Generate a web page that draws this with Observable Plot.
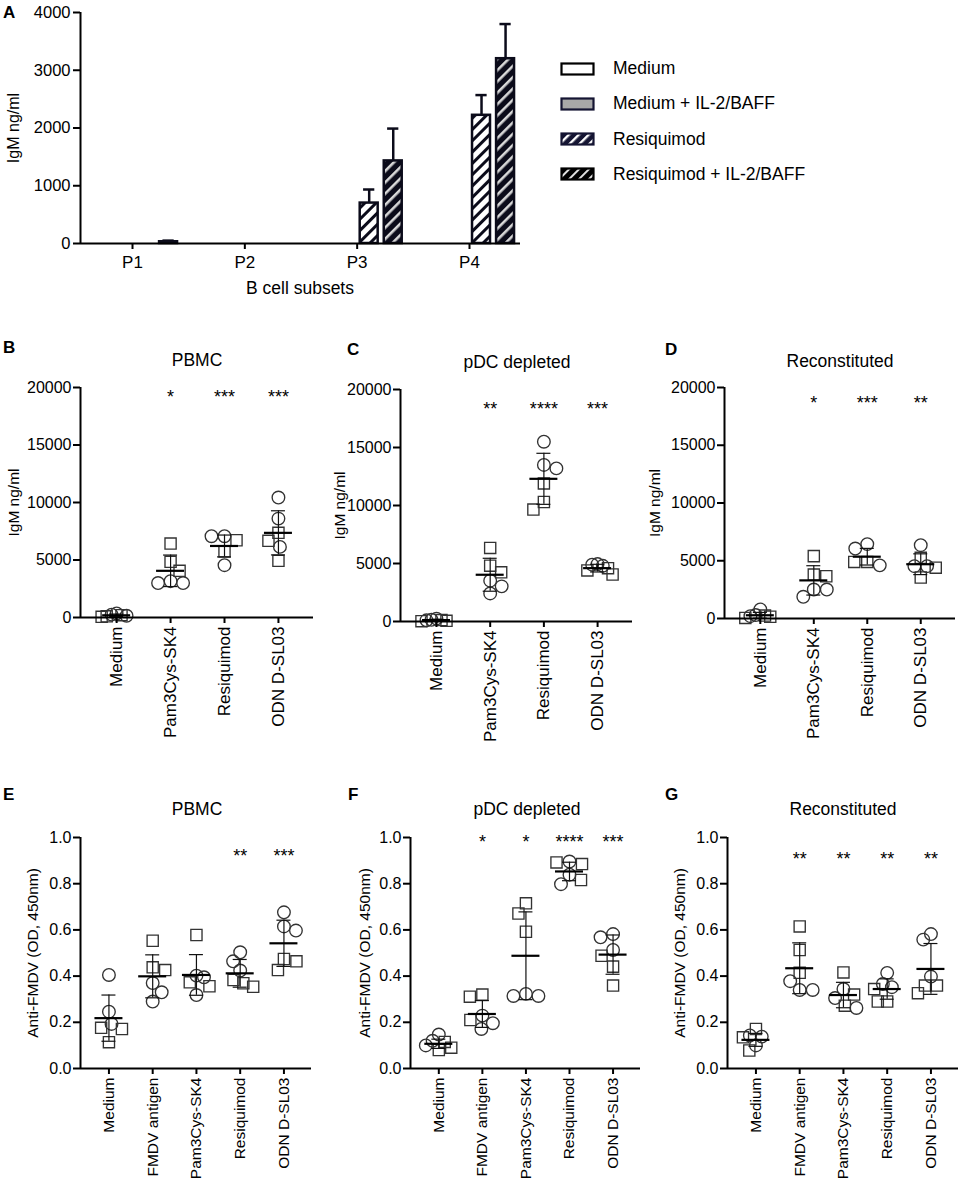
<!DOCTYPE html>
<html>
<head>
<meta charset="utf-8">
<script src="https://cdn.jsdelivr.net/npm/d3@7"></script>
<script src="https://cdn.jsdelivr.net/npm/@observablehq/plot@0.6"></script>
<style>
  body { margin: 0; background: #fff; font-family: "Liberation Sans", Arial, Helvetica, sans-serif; color: #000; }
  #fig { position: relative; width: 961px; height: 1184px; overflow: hidden; background: #fff; }
  .plt { position: absolute; }
  .plt svg { overflow: visible; }
  .letter { position: absolute; font-weight: bold; font-size: 17px; line-height: 1; }
  .ttl { position: absolute; font-size: 17.5px; white-space: nowrap; transform: translate(-50%, -50%); line-height: 1; }
  .leg { position: absolute; display: flex; align-items: center; font-size: 17.5px; white-space: nowrap; }
  .leg svg { margin-right: 18px; }
</style>
</head>
<body>
<svg width="0" height="0" style="position:absolute">
  <defs>
    <pattern id="hatchR" patternUnits="userSpaceOnUse" width="8" height="8" patternTransform="rotate(45)">
      <rect width="8" height="8" fill="#ffffff"></rect>
      <rect width="3" height="8" fill="#0b0b1a"></rect>
    </pattern>
    <pattern id="hatchRI" patternUnits="userSpaceOnUse" width="8" height="8" patternTransform="rotate(45)">
      <rect width="8" height="8" fill="#0b0b1a"></rect>
      <rect width="2.6" height="8" fill="#d9d9d9"></rect>
    </pattern>
    <pattern id="hatchRL" patternUnits="userSpaceOnUse" width="7" height="7" patternTransform="rotate(45)">
      <rect width="7" height="7" fill="#141432"></rect>
      <rect width="2.4" height="7" fill="#ffffff"></rect>
    </pattern>
    <pattern id="hatchRIL" patternUnits="userSpaceOnUse" width="7" height="7" patternTransform="rotate(45)">
      <rect width="7" height="7" fill="#000000"></rect>
      <rect width="2" height="7" fill="#e0e0e0"></rect>
    </pattern>
  </defs>
</svg>
<div id="fig"></div>
<script>
// ---------------- DATA ----------------
// Panel A
const subsets = ["P1", "P2", "P3", "P4"];
const treatmentsA = ["Medium", "Medium + IL-2/BAFF", "Resiquimod", "Resiquimod + IL-2/BAFF"];
const meanMedium   = [0, 0, 0, 0];
const meanMediumIL = [0, 0, 0, 0];
const meanResiq    = [0, 0, 700, 2220];
const meanResiqIL  = [30, 0, 1430, 3200];
const sdMedium     = [0, 0, 0, 0];
const sdMediumIL   = [0, 0, 0, 0];
const sdResiq      = [0, 0, 235, 350];
const sdResiqIL    = [20, 0, 560, 600];
const ticksA = [0, 1000, 2000, 3000, 4000];

// Panels B–D (IgM ng/ml)
const catsIgM = ["Medium", "Pam3Cys-SK4", "Resiquimod", "ODN D-SL03"];
const ticksIgM = [0, 5000, 10000, 15000, 20000];

const B_circles = [[350, 250, 150], [3160, 3000, 3000], [7070, 7070, 4550], [10430, 8600, 6140]];
const B_squares = [[200, 100, 60], [6430, 4840, 4060], [6720, 5750], [7360, 6670, 4930]];
const B_mean = [190, 4060, 6220, 7360];
const B_sd = [110, 1370, 950, 1920];
const B_stars = ["", "*", "***", "***"];

const C_circles = [[250, 150, 100], [3520, 3030, 2420], [15500, 13500, 13200], [4900, 4800, 4950]];
const C_squares = [[120, 60, 30], [6340, 4810, 4240], [11900, 10300, 9650], [4400, 4050, 4600]];
const C_mean = [120, 4030, 12300, 4600];
const C_sd = [80, 1420, 2200, 330];
const C_stars = ["", "**", "****", "***"];

const D_circles = [[780, 300, 200], [2510, 2510, 1880], [6440, 6060, 4600], [6350, 4530, 4530]];
const D_squares = [[250, 150, 50], [5400, 3800, 3660], [4900, 4900], [5250, 4400, 3550]];
const D_mean = [280, 3300, 5350, 4700];
const D_sd = [250, 1270, 720, 900];
const D_stars = ["", "*", "***", "**"];

// Panels E–G (Anti-FMDV OD 450nm)
const catsOD = ["Medium", "FMDV antigen", "Pam3Cys-SK4", "Resiquimod", "ODN D-SL03"];
const ticksOD = [0, 0.2, 0.4, 0.6, 0.8, 1.0];

const E_circles = [[0.405, 0.246, 0.193], [0.37, 0.33, 0.29], [0.402, 0.395, 0.318], [0.503, 0.464, 0.424], [0.676, 0.615, 0.597]];
const E_squares = [[0.176, 0.171, 0.114], [0.553, 0.438, 0.426], [0.578, 0.373, 0.356], [0.383, 0.369, 0.354], [0.474, 0.464, 0.426]];
const E_mean = [0.218, 0.399, 0.405, 0.412, 0.542];
const E_sd = [0.1, 0.093, 0.088, 0.06, 0.1];
const E_stars = ["", "", "", "**", "***"];

const F_circles = [[0.147, 0.12, 0.1], [0.229, 0.196, 0.171], [0.323, 0.314, 0.314], [0.896, 0.839, 0.798], [0.582, 0.568, 0.513]];
const F_squares = [[0.115, 0.09, 0.08], [0.32, 0.311, 0.21], [0.715, 0.671, 0.592], [0.892, 0.885, 0.816], [0.488, 0.441, 0.359]];
const F_mean = [0.107, 0.236, 0.488, 0.853, 0.493];
const F_sd = [0.02, 0.058, 0.19, 0.04, 0.085];
const F_stars = ["", "*", "*", "****", "***"];

const G_circles = [[0.143, 0.138, 0.1], [0.378, 0.34, 0.34], [0.344, 0.305, 0.262], [0.414, 0.366, 0.352], [0.582, 0.558, 0.398]];
const G_squares = [[0.171, 0.135, 0.078], [0.615, 0.513, 0.414], [0.416, 0.32, 0.272], [0.344, 0.29, 0.29], [0.359, 0.359, 0.326]];
const G_mean = [0.124, 0.434, 0.318, 0.344, 0.431];
const G_sd = [0.028, 0.11, 0.055, 0.044, 0.11];
const G_stars = ["", "**", "**", "**", "**"];

// ---------------- RENDER ----------------
const FONT = '"Liberation Sans", Arial, Helvetica, sans-serif';
const INK = "#0b0b1a";
const fig = document.getElementById("fig");

function put(node, left, top) {
  const wrap = document.createElement("div");
  wrap.className = "plt";
  wrap.style.left = left + "px";
  wrap.style.top = top + "px";
  wrap.appendChild(node);
  fig.appendChild(wrap);
}
function html(cls, text, left, top) {
  const d = document.createElement("div");
  d.className = cls;
  d.textContent = text;
  d.style.left = left + "px";
  d.style.top = top + "px";
  fig.appendChild(d);
}

// ---- Panel A ----
{
  const meansA = [meanMedium, meanMediumIL, meanResiq, meanResiqIL];
  const sdsA = [sdMedium, sdMediumIL, sdResiq, sdResiqIL];
  const rows = [];
  treatmentsA.forEach((t, j) => subsets.forEach((s, i) => rows.push({t, i, j, v: meansA[j][i], sd: sdsA[j][i]})));
  const xDom = [-0.463, 3.454];
  const STEP = 0.214, BW = 0.16, CAP = 0.05;
  const cx = d => d.i + (d.j - 1.5) * STEP;
  const bars = rows.filter(d => d.v > 0);
  const errs = rows.filter(d => d.sd > 0);
  const p = Plot.plot({
    width: 540, height: 300,
    marginLeft: 80, marginRight: 20, marginTop: 12, marginBottom: 57,
    style: {fontFamily: FONT, fontSize: "16px", color: "#000", background: "transparent", overflow: "visible"},
    x: {domain: xDom},
    y: {domain: [0, 4000]},
    color: {domain: treatmentsA, range: ["#ffffff", "#a8a8a8", "url(#hatchR)", "url(#hatchRI)"]},
    marks: [
      Plot.ruleX(errs, {x: cx, y1: "v", y2: d => d.v + d.sd, stroke: INK, strokeWidth: 2.5}),
      Plot.ruleY(errs, {y: d => d.v + d.sd, x1: d => cx(d) - CAP, x2: d => cx(d) + CAP, stroke: INK, strokeWidth: 2.5}),
      Plot.rect(bars, {x1: d => cx(d) - BW / 2, x2: d => cx(d) + BW / 2, y1: 0, y2: "v", fill: "t", stroke: INK, strokeWidth: 2.5}),
      Plot.ruleY([0], {stroke: "#000", strokeWidth: 2}),
      Plot.ruleX([xDom[0]], {stroke: "#000", strokeWidth: 2}),
      Plot.axisY({ticks: ticksA, tickFormat: d3.format("d"), tickSize: 7, tickPadding: 3, fontSize: 16.5, strokeWidth: 2, label: null}),
      Plot.axisX({ticks: [0, 1, 2, 3], tickFormat: i => subsets[i], tickSize: 6, tickPadding: 6, fontSize: 17, strokeWidth: 2, label: null}),
      Plot.text(["IgM ng/ml"], {frameAnchor: "left", dx: -67, rotate: -90, textAnchor: "middle", fontSize: 16})
    ]
  });
  put(p, 0, 0);
  html("letter", "A", 3, 4);
  html("ttl", "B cell subsets", 300, 289);

  // legend
  const legFills = ["#ffffff", "#a8a8a8", "url(#hatchRL)", "url(#hatchRIL)"];
  const legStrokes = ["#000000", "#141432", "#141432", "#000000"];
  treatmentsA.forEach((t, j) => {
    const row = document.createElement("div");
    row.className = "leg";
    row.style.left = "560px";
    row.style.top = (58 + j * 35.3) + "px";
    row.innerHTML = `<svg width="35" height="14"><rect x="1.5" y="1.5" width="32" height="11" fill="${legFills[j]}" stroke="${legStrokes[j]}" stroke-width="2.2"></rect></svg><span>${t}</span>`;
    fig.appendChild(row);
  });
}

// ---- dot panels ----
function swarm(vals, pxPerUnit, r, maxOff) {
  const placed = [];
  const out = new Array(vals.length).fill(0);
  const order = d3.range(vals.length).sort((a, b) => vals[b] - vals[a]);
  order.forEach((k, n) => {
    const py = vals[k] * pxPerUnit;
    let pos = 0;
    outer: for (let s = 0; s <= 80; s += 0.5) {
      const cands = s === 0 ? [0] : (n % 2 ? [-s, s] : [s, -s]);
      for (const c of cands) {
        if (placed.every(q => (q.x - c) ** 2 + (q.y - py) ** 2 >= (2 * r) ** 2)) { pos = c; break outer; }
      }
    }
    placed.push({x: pos, y: py});
    out[k] = pos;
  });
  const m = d3.max(out, Math.abs);
  if (m > maxOff) return out.map(v => v * maxOff / m);
  return out;
}

function dotPanel(o) {
  const R = 6.3;
  const mT = 20, mL = 80;
  const H = o.frameBottom - o.frameTop;
  const mB = o.svgH - mT - H;
  const mR = o.svgW - mL - o.frameW;
  const pxPerUnit = H / o.yMax;
  const xPerPx = (o.xDomain[1] - o.xDomain[0]) / o.frameW;
  const pts = [], stats = [];
  o.cats.forEach((c, i) => {
    const vals = o.circles[i].concat(o.squares[i]);
    const shapes = o.circles[i].map(() => "circle").concat(o.squares[i].map(() => "square"));
    const off = swarm(vals, pxPerUnit, R, o.maxOff);
    vals.forEach((v, k) => pts.push({x: i + off[k] * xPerPx, v, shape: shapes[k]}));
    stats.push({i, m: o.mean[i], sd: o.sd[i], star: o.stars[i]});
  });
  const meanW = 14 * xPerPx, capW = 7 * xPerPx;
  const p = Plot.plot({
    width: o.svgW, height: o.svgH,
    marginLeft: mL, marginRight: mR, marginTop: mT, marginBottom: mB,
    style: {fontFamily: FONT, fontSize: "16px", color: "#000", background: "transparent", overflow: "visible"},
    x: {domain: o.xDomain},
    y: {domain: [0, o.yMax]},
    marks: [
      Plot.dot(pts.filter(d => d.shape === "circle"), {x: "x", y: "v", symbol: "circle", r: R, fill: "none", stroke: "#333", strokeWidth: 1.35}),
      Plot.dot(pts.filter(d => d.shape === "square"), {x: "x", y: "v", symbol: "square", r: R, fill: "none", stroke: "#333", strokeWidth: 1.35}),
      Plot.ruleX(stats, {x: "i", y1: d => d.m - d.sd, y2: d => d.m + d.sd, stroke: "#111", strokeWidth: 1.2}),
      Plot.ruleY(stats, {y: d => d.m + d.sd, x1: d => d.i - capW, x2: d => d.i + capW, stroke: "#111", strokeWidth: 1.2}),
      Plot.ruleY(stats, {y: d => d.m - d.sd, x1: d => d.i - capW, x2: d => d.i + capW, stroke: "#111", strokeWidth: 1.2}),
      Plot.ruleY(stats, {y: "m", x1: d => d.i - meanW, x2: d => d.i + meanW, stroke: "#000", strokeWidth: 2.2}),
      Plot.text(stats.filter(d => d.star), {x: "i", y: () => o.starY, text: "star", fontSize: 18, dy: 5}),
      Plot.ruleY([0], {stroke: "#000", strokeWidth: 2}),
      Plot.ruleX([o.xDomain[0]], {stroke: "#000", strokeWidth: 2}),
      Plot.axisY({ticks: o.yTicks, tickFormat: o.yFormat, tickSize: 7, tickPadding: 2, fontSize: 16, strokeWidth: 2, label: null}),
      Plot.axisX({ticks: d3.range(o.cats.length), tickFormat: i => o.cats[i], tickRotate: -90, tickSize: 6, tickPadding: 3, fontSize: o.catFont, strokeWidth: 2, label: null}),
      Plot.text([o.yLabel], {frameAnchor: "left", dx: o.labelDx, rotate: -90, textAnchor: "middle", fontSize: 15.5})
    ]
  });
  put(p, o.svgLeft, o.frameTop - mT);
  html("ttl", o.title, o.titleX, o.titleY);
  html("letter", o.letter, o.letterX, o.letterY);
}

const domIgM = [-0.67, 3.65];
const domOD = [-0.65, 4.63];
const fmtIgM = d3.format("d");
const fmtOD = d3.format(".1f");

dotPanel({cats: catsIgM, circles: B_circles, squares: B_squares, mean: B_mean, sd: B_sd, stars: B_stars, starY: 19600,
  yMax: 20000, yTicks: ticksIgM, yFormat: fmtIgM, yLabel: "IgM ng/ml", labelDx: -66, xDomain: domIgM,
  svgLeft: 0, svgW: 318, svgH: 375, frameW: 233, frameTop: 387, frameBottom: 617, maxOff: 15, catFont: 17,
  title: "PBMC", titleX: 197, titleY: 361, letter: "B", letterX: 3, letterY: 339});

dotPanel({cats: catsIgM, circles: C_circles, squares: C_squares, mean: C_mean, sd: C_sd, stars: C_stars, starY: 18700,
  yMax: 20000, yTicks: ticksIgM, yFormat: fmtIgM, yLabel: "IgM ng/ml", labelDx: -60, xDomain: domIgM,
  svgLeft: 320, svgW: 317, svgH: 375, frameW: 232, frameTop: 389, frameBottom: 621, maxOff: 15, catFont: 17,
  title: "pDC depleted", titleX: 517, titleY: 363, letter: "C", letterX: 347, letterY: 341});

dotPanel({cats: catsIgM, circles: D_circles, squares: D_squares, mean: D_mean, sd: D_sd, stars: D_stars, starY: 19050,
  yMax: 20000, yTicks: ticksIgM, yFormat: fmtIgM, yLabel: "IgM ng/ml", labelDx: -69, xDomain: domIgM,
  svgLeft: 644, svgW: 317, svgH: 375, frameW: 231, frameTop: 387, frameBottom: 618, maxOff: 15, catFont: 17,
  title: "Reconstituted", titleX: 840, titleY: 362, letter: "D", letterX: 665, letterY: 341});

dotPanel({cats: catsOD, circles: E_circles, squares: E_squares, mean: E_mean, sd: E_sd, stars: E_stars, starY: 0.94,
  yMax: 1.0, yTicks: ticksOD, yFormat: fmtOD, yLabel: "Anti-FMDV (OD, 450nm)", labelDx: -47, xDomain: domOD,
  svgLeft: 0, svgW: 330, svgH: 365, frameW: 231, frameTop: 837, frameBottom: 1068, maxOff: 13, catFont: 15.5,
  title: "PBMC", titleX: 197, titleY: 810, letter: "E", letterX: 3, letterY: 786});

dotPanel({cats: catsOD, circles: F_circles, squares: F_squares, mean: F_mean, sd: F_sd, stars: F_stars, starY: 1.0,
  yMax: 1.0, yTicks: ticksOD, yFormat: fmtOD, yLabel: "Anti-FMDV (OD, 450nm)", labelDx: -45, xDomain: domOD,
  svgLeft: 330, svgW: 317, svgH: 365, frameW: 230, frameTop: 837, frameBottom: 1068, maxOff: 13, catFont: 15.5,
  title: "pDC depleted", titleX: 527, titleY: 810, letter: "F", letterX: 348, letterY: 786});

dotPanel({cats: catsOD, circles: G_circles, squares: G_squares, mean: G_mean, sd: G_sd, stars: G_stars, starY: 0.926,
  yMax: 1.0, yTicks: ticksOD, yFormat: fmtOD, yLabel: "Anti-FMDV (OD, 450nm)", labelDx: -47, xDomain: domOD,
  svgLeft: 647, svgW: 314, svgH: 365, frameW: 231, frameTop: 837, frameBottom: 1068, maxOff: 13, catFont: 15.5,
  title: "Reconstituted", titleX: 843, titleY: 810, letter: "G", letterX: 665, letterY: 786});
</script>
</body>
</html>
